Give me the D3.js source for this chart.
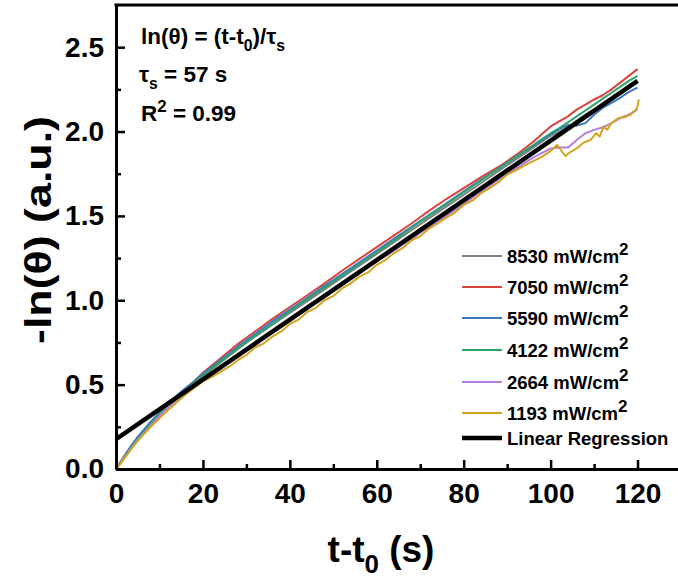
<!DOCTYPE html>
<html><head><meta charset="utf-8">
<script src="https://cdn.jsdelivr.net/npm/d3@7"></script>
<style>
html,body{margin:0;padding:0;background:#fff;}
svg text{font-family:"Liberation Sans",Arial,sans-serif;font-weight:bold;fill:#000;}
</style></head>
<body><svg id="chart" width="678" height="581"></svg>
<script>
// ---------- data ----------
const tCommon = [0,1,2,3,4,5,6,8,10,12,14,16,18,20,24,28,32,36,40,44,48,52,56,60,64,68,72,76,80,84,88,92,96,100,102,104,106,108,110,112,114,116,118,120];
const s8530 = [0,0.035,0.07,0.105,0.14,0.175,0.205,0.265,0.32,0.37,0.42,0.465,0.505,0.55,0.63,0.71,0.785,0.855,0.925,0.995,1.065,1.135,1.205,1.275,1.345,1.415,1.485,1.555,1.625,1.695,1.765,1.835,1.905,1.975,2.00,2.03,2.065,2.10,2.13,2.16,2.19,2.225,2.26,2.29];
const s7050 = [0,0.04,0.08,0.115,0.15,0.185,0.215,0.275,0.33,0.38,0.43,0.475,0.52,0.57,0.655,0.74,0.815,0.89,0.96,1.03,1.10,1.175,1.245,1.315,1.385,1.455,1.53,1.60,1.665,1.73,1.79,1.86,1.94,2.03,2.06,2.09,2.13,2.16,2.19,2.215,2.25,2.29,2.33,2.37];
const s5590 = [0,0.04,0.08,0.12,0.155,0.19,0.22,0.28,0.335,0.385,0.435,0.48,0.52,0.565,0.645,0.725,0.80,0.875,0.945,1.015,1.085,1.155,1.225,1.295,1.365,1.435,1.505,1.575,1.645,1.715,1.78,1.85,1.915,1.985,2.015,2.04,2.035,2.05,2.10,2.14,2.17,2.20,2.235,2.26];
const s4122 = [0,0.035,0.075,0.11,0.145,0.18,0.21,0.27,0.325,0.375,0.425,0.47,0.51,0.555,0.635,0.715,0.79,0.86,0.935,1.005,1.075,1.145,1.215,1.285,1.355,1.43,1.50,1.57,1.64,1.71,1.78,1.85,1.92,1.99,2.02,2.055,2.09,2.125,2.16,2.195,2.23,2.265,2.30,2.33];
const s2664 = [0,0.035,0.07,0.105,0.14,0.17,0.20,0.26,0.315,0.365,0.41,0.455,0.495,0.535,0.60,0.67,0.74,0.81,0.88,0.95,1.02,1.09,1.16,1.23,1.295,1.365,1.435,1.50,1.57,1.645,1.715,1.78,1.845,1.90,1.905,1.905,1.95,1.99,2.01,2.025,2.05,2.08,2.10,2.13];
const tYellow = [0,1,2,3,4,5,6,8,10,12,14,16,18,20,22,24,26,28,30,32,34,36,38,40,42,44,46,48,50,52,54,56,58,60,62,64,66,68,70,72,74,76,78,80,82,84,86,88,90,92,94,96,98,100,101.5,103.4,104.6,106,107.6,109.2,110.5,111.3,112.2,113,114,115.6,117,118.4,119.2,119.9,120.3];
const s1193 = [0,0.03,0.065,0.10,0.135,0.165,0.195,0.25,0.30,0.35,0.395,0.44,0.48,0.52,0.545,0.575,0.605,0.645,0.675,0.72,0.745,0.785,0.815,0.86,0.885,0.93,0.955,1.00,1.025,1.07,1.10,1.14,1.165,1.21,1.24,1.28,1.31,1.355,1.38,1.425,1.455,1.49,1.52,1.565,1.59,1.635,1.665,1.70,1.745,1.77,1.80,1.825,1.85,1.885,1.92,1.855,1.88,1.90,1.935,1.95,1.99,1.97,2.03,2.01,2.05,2.08,2.085,2.10,2.12,2.14,2.19];
const regT = [0,120];
const regV = [0.177,2.30];
const seriesNames = ["8530 mW/cm","7050 mW/cm","5590 mW/cm","4122 mW/cm","2664 mW/cm","1193 mW/cm"];
const seriesColors = ["#808080","#d9453d","#3a78c2","#2ea36e","#b57edc","#d4a421"];
const regName = "Linear Regression";
const xTickVals = [0,20,40,60,80,100,120];
const yTickVals = [0,0.5,1.0,1.5,2.0,2.5];
const xDomain = [0,130];
const yDomain = [0,2.75];

// ---------- layout ----------
const svg = d3.select("#chart");
const L = 116, R = 681, T = 5, B = 469;
const x = d3.scaleLinear().domain(xDomain).range([L,R]);
const y = d3.scaleLinear().domain(yDomain).range([B,T]);

svg.append("clipPath").attr("id","clip").append("rect")
  .attr("x",L).attr("y",T).attr("width",R-L).attr("height",B-T);

const seriesData = [
  {t:tCommon, v:s8530}, {t:tCommon, v:s7050}, {t:tCommon, v:s5590},
  {t:tCommon, v:s4122}, {t:tCommon, v:s2664}, {t:tYellow, v:s1193}
];
const line = d3.line().x(d=>x(d[0])).y(d=>y(d[1]));
const g = svg.append("g").attr("clip-path","url(#clip)");
seriesData.forEach((s,i)=>{
  g.append("path").datum(s.t.map((tt,j)=>[tt,s.v[j]]))
   .attr("d",line).attr("fill","none").attr("stroke",seriesColors[i])
   .attr("stroke-width",2).attr("stroke-linejoin","round");
});
g.append("path").datum(regT.map((tt,j)=>[tt,regV[j]]))
 .attr("d",line).attr("fill","none").attr("stroke","#000").attr("stroke-width",4.5);

// ---------- axes ----------
const xAxis = d3.axisBottom(x).tickValues(xTickVals).tickSizeInner(-9).tickSizeOuter(0).tickPadding(14).tickFormat(d3.format("d"));
const xMinor = d3.axisBottom(x).tickValues([10,30,50,70,90,110,130]).tickSizeInner(-5).tickSizeOuter(0).tickFormat("");
const yAxis = d3.axisLeft(y).tickValues(yTickVals).tickSizeInner(-9).tickSizeOuter(0).tickPadding(12).tickFormat(d3.format(".1f"));
const yMinor = d3.axisLeft(y).tickValues([0.25,0.75,1.25,1.75,2.25]).tickSizeInner(-5).tickSizeOuter(0).tickFormat("");

function styleAxis(sel){
  sel.selectAll(".domain").attr("stroke","#000").attr("stroke-width",3);
  sel.selectAll(".tick line").attr("stroke","#000").attr("stroke-width",2.5);
  sel.selectAll(".tick text").style("font-size","28px").style("font-family","'Liberation Sans',Arial,sans-serif").style("font-weight","bold");
}
const gx = svg.append("g").attr("transform",`translate(0,${B})`).call(xAxis); styleAxis(gx);
const gxm = svg.append("g").attr("transform",`translate(0,${B})`).call(xMinor); styleAxis(gxm);
const gy = svg.append("g").attr("transform",`translate(${L},0)`).call(yAxis); styleAxis(gy);
const gym = svg.append("g").attr("transform",`translate(${L},0)`).call(yMinor); styleAxis(gym);
gx.selectAll(".tick text").attr("dy","0.71em");
// top border
svg.append("line").attr("x1",L-1.5).attr("x2",678).attr("y1",T).attr("y2",T).attr("stroke","#000").attr("stroke-width",3);

// ---------- rich text helper ----------
function rich(sel, parts, size){
  parts.forEach(p=>{
    const ts = sel.append("tspan").text(p.t);
    if(p.sub){ ts.attr("dy", size*0.3).style("font-size",(size*0.7)+"px"); }
    else if(p.sup){ ts.attr("dy", -size*0.4).style("font-size",(size*0.75)+"px"); }
    else if(p.back){ ts.attr("dy", p.back); }
  });
}

// axis titles
const xfs = 37;
const xt = svg.append("text").attr("x",381).attr("y",562).attr("text-anchor","middle").style("font-size",xfs+"px");
rich(xt,[{t:"t-t"},{t:"0",sub:true},{t:" (s)",back:-xfs*0.3}],xfs);
svg.append("text").attr("transform","translate(51,230) rotate(-90)").attr("text-anchor","middle")
  .style("font-size","36px").attr("textLength",228).attr("lengthAdjust","spacingAndGlyphs").text("-ln(θ) (a.u.)");

// annotation
const fs = 22.5;
const a1 = svg.append("text").attr("x",141).attr("y",44).style("font-size",fs+"px");
rich(a1,[{t:"ln(θ) = (t-t"},{t:"0",sub:true},{t:")/τ",back:-fs*0.3},{t:"s",sub:true}],fs);
const a2 = svg.append("text").attr("x",139).attr("y",82).style("font-size",fs+"px");
rich(a2,[{t:"τ"},{t:"s",sub:true},{t:" = 57 s",back:-fs*0.3}],fs);
const a3 = svg.append("text").attr("x",141).attr("y",121).style("font-size",fs+"px");
rich(a3,[{t:"R"},{t:"2",sup:true},{t:" = 0.99",back:fs*0.4}],fs);

// legend
const legY = [256,287,318,350,382,413];
const regLegY = 438;
const lf = 18.5;
seriesNames.forEach((n,i)=>{
  svg.append("line").attr("x1",462).attr("x2",502).attr("y1",legY[i]).attr("y2",legY[i])
    .attr("stroke",seriesColors[i]).attr("stroke-width",2);
  const tx = svg.append("text").attr("x",507).attr("y",legY[i]+7).style("font-size",lf+"px");
  rich(tx,[{t:n},{t:"2",sup:true}],lf);
  tx.selectAll("tspan").filter((d,k)=>k===1).style("font-size",(lf*0.92)+"px").attr("dy",-lf*0.45);
});
svg.append("line").attr("x1",462).attr("x2",502).attr("y1",regLegY).attr("y2",regLegY).attr("stroke","#000").attr("stroke-width",4.5);
svg.append("text").attr("x",507).attr("y",regLegY+7).style("font-size",lf+"px").text(regName);
</script></body></html>
